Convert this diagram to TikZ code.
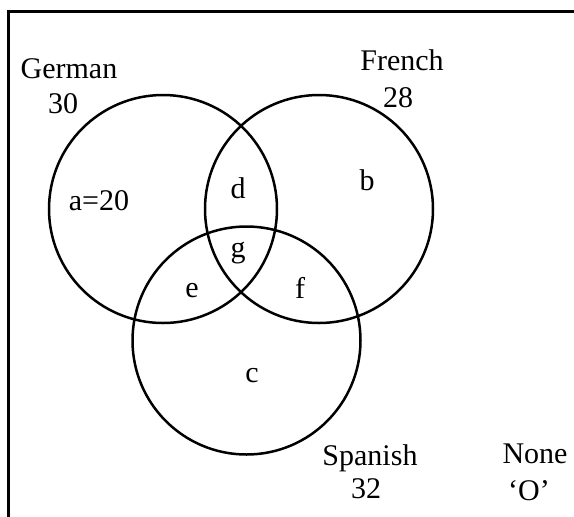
\documentclass[tikz,border=0pt]{standalone}
\usepackage{fontspec}
\setmainfont{Liberation Serif}
\begin{document}
\begin{tikzpicture}[x=0.5pt,y=-0.5pt,
  setc/.style={draw=black,line width=1.25pt,circle,minimum size=114pt,inner sep=0pt},
  lbl/.style={anchor=base,inner sep=0pt,font=\fontsize{15}{18}\selectfont},
  frame/.style={draw=black,line width=1.5pt}]
\useasboundingbox (0,0) rectangle (574,516);
\clip (0,0) rectangle (574,516);
\fill[white] (0,0) rectangle (574,516);
\draw[frame] (8,11) rectangle (640,580);
\node[setc] (G) at (163,209) {};
\node[setc] (F) at (319,209) {};
\node[setc] (S) at (246.5,340.5) {};
\node[lbl] (gname) at (69,78) {German};
\node[lbl] (gnum) at (63,113) {30};
\node[lbl] (fname) at (402,70) {French};
\node[lbl] (fnum) at (398,107) {28};
\node[lbl] (sname) at (370,465) {Spanish};
\node[lbl] (snum) at (366,498) {32};
\node[lbl] (nname) at (535,463) {None};
\node[lbl] (nnum) at (529,500) {‘O’};
\node[lbl] (ra) at (99,210) {a=20};
\node[lbl] (rb) at (367,190) {b};
\node[lbl] (rc) at (252,382) {c};
\node[lbl] (rd) at (238,198) {d};
\node[lbl] (re) at (192,297) {e};
\node[lbl] (rf) at (300,298) {f};
\node[lbl] (rg) at (238,257) {g};
\end{tikzpicture}
\end{document}
